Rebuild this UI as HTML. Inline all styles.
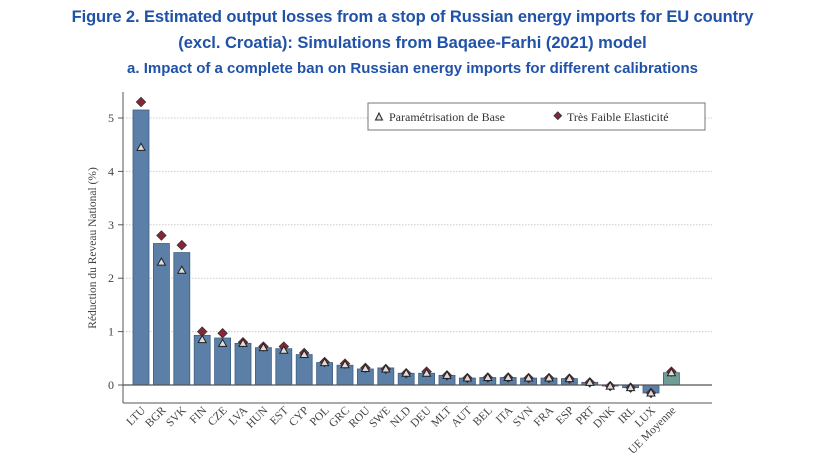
<!DOCTYPE html><html><head><style>
body{margin:0;width:825px;height:463px;background:#fff;overflow:hidden}
.t{position:absolute;left:0;width:825px;text-align:center;color:#1f52a8;font-family:"Liberation Sans",sans-serif;font-weight:bold;white-space:nowrap}
</style></head><body>
<div class="t" style="top:8px;font-size:16.5px;letter-spacing:-0.1px">Figure 2. Estimated output losses from a stop of Russian energy imports for EU country</div>
<div class="t" style="top:34px;font-size:16.5px">(excl. Croatia): Simulations from Baqaee-Farhi (2021) model</div>
<div class="t" style="top:60px;font-size:15px">a. Impact of a complete ban on Russian energy imports for different calibrations</div>
<svg width="825" height="463" style="position:absolute;left:0;top:0" font-family="Liberation Serif,serif">
<g id="g"></g>
</svg>
<script>
const d=[["LTU",5.15,4.45,5.3],["BGR",2.65,2.3,2.8],["SVK",2.48,2.15,2.62],["FIN",.93,.85,1.0],["CZE",.88,.78,.97],["LVA",.78,.78,.8],["HUN",.7,.7,.72],["EST",.68,.65,.72],["CYP",.57,.57,.6],["POL",.42,.42,.43],["GRC",.37,.38,.4],["ROU",.3,.31,.32],["SWE",.32,.3,.3],["NLD",.22,.22,.22],["DEU",.22,.22,.25],["MLT",.18,.18,.18],["AUT",.13,.13,.13],["BEL",.14,.14,.14],["ITA",.14,.14,.14],["SVN",.13,.13,.13],["FRA",.13,.13,.13],["ESP",.12,.12,.12],["PRT",.05,.05,.05],["DNK",-.02,-.02,-.02],["IRL",-.05,-.05,-.05],["LUX",-.15,-.15,-.15],["UE Moyenne",.23,.23,.25]];
const y0=385,k=53.4,x0=141,dx=20.4;let s="";
for(let i=1;i<=5;i++){let y=y0-i*k;s+=`<line x1="123" x2="712" y1="${y}" y2="${y}" stroke="#ccc" stroke-dasharray="1.5 1.5"/>`;}
for(let i=0;i<=5;i++){let y=y0-i*k;s+=`<line x1="118" x2="123" y1="${y}" y2="${y}" stroke="#555"/><text x="114" y="${y+4}" font-size="12" text-anchor="end" fill="#444">${i}</text>`;}
s+=`<line x1="123" x2="123" y1="92" y2="403" stroke="#555"/><line x1="123" x2="712" y1="403" y2="403" stroke="#555"/>`;
d.forEach((r,i)=>{let x=x0+i*dx,y=y0-r[1]*k,h=Math.abs(r[1]*k);let c=i==26?"#6e9e96":"#5b7fa6";
s+=`<rect x="${x-8}" y="${Math.min(y,y0)}" width="16" height="${h}" fill="${c}" stroke="#3f5f85" stroke-width="0.8"/>`;});
s+=`<line x1="123" x2="712" y1="${y0}" y2="${y0}" stroke="#555" stroke-width="1.3"/>`;
d.forEach((r,i)=>{let x=x0+i*dx,yd=y0-r[3]*k,yt=y0-r[2]*k;
s+=`<rect x="${x-3.3}" y="${yd-3.3}" width="6.6" height="6.6" transform="rotate(45 ${x} ${yd})" fill="#8b2438" stroke="#333" stroke-width="0.8"/>`;
s+=`<polygon points="${x},${yt-4} ${x-4},${yt+3} ${x+4},${yt+3}" fill="#ddd" stroke="#222" stroke-width="1"/>`;
s+=`<text transform="translate(${x+5},${411}) rotate(-45)" font-size="11.5" text-anchor="end" fill="#444">${r[0]}</text>`;});
s+=`<text transform="translate(96,248) rotate(-90)" font-size="11.5" text-anchor="middle" fill="#444">Réduction du Reveau National (%)</text>`;
s+=`<rect x="368" y="103" width="337" height="27" fill="#fff" stroke="#777"/>`;
s+=`<polygon points="379,113 375.5,120 382.5,120" fill="#ddd" stroke="#222"/><text x="389" y="121" font-size="12" fill="#333">Paramétrisation de Base</text>`;
s+=`<rect x="555" y="113" width="5.5" height="5.5" transform="rotate(45 557.8 115.8)" fill="#8b2438" stroke="#333" stroke-width="0.8"/><text x="567" y="121" font-size="12" fill="#333">Très Faible Elasticité</text>`;
document.getElementById("g").innerHTML=s;
</script></body></html>
